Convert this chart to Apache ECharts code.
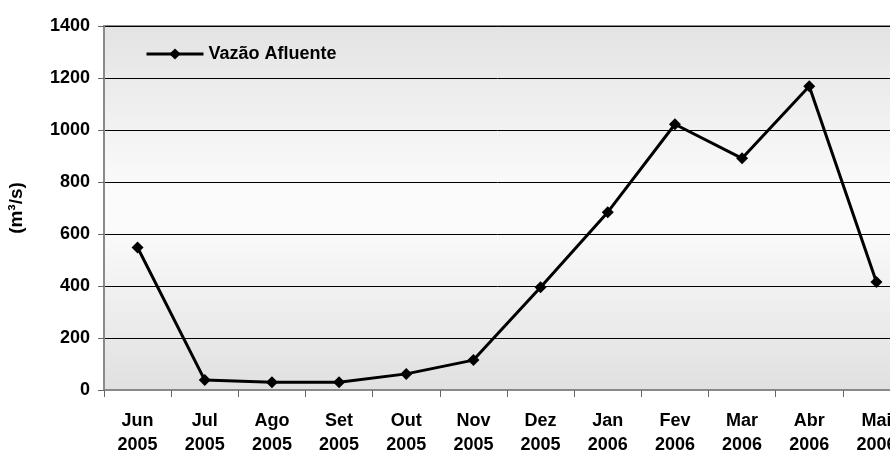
<!DOCTYPE html>
<html>
<head>
<meta charset="utf-8">
<script src="https://cdn.jsdelivr.net/npm/echarts@6/dist/echarts.min.js"></script>
<style>
	html, body { margin: 0; padding: 0; background: #fff; }
	#chart { width: 890px; height: 459px; }
</style>
</head>
<body>
<div id="chart"></div>
<script>
// monthly inflow, Jun 2005 - Mai 2006
var months = ['Jun\n2005', 'Jul\n2005', 'Ago\n2005', 'Set\n2005', 'Out\n2005', 'Nov\n2005',
	'Dez\n2005', 'Jan\n2006', 'Fev\n2006', 'Mar\n2006', 'Abr\n2006', 'Mai\n2006'];
var vazao = [548, 38, 30, 30, 62, 115, 395, 684, 1022, 891, 1168, 415];
var seriesName = 'Vazão Afluente';

var myChart = echarts.init(document.getElementById('chart'));
var font = 'Liberation Sans, Arial, sans-serif';

myChart.setOption({
	animation: false,
	grid: {
		left: 104,
		width: 806, // plot runs past the right edge, like the original
		top: 26,
		bottom: 69,
		outerBoundsMode: 'none',
		containLabel: false,
		show: true,
		borderColor: '#8a8a8a',
		borderWidth: 2,
		backgroundColor: new echarts.graphic.LinearGradient(0, 0, 0, 1, [
			{ offset: 0, color: '#e3e3e3' },
			{ offset: 0.45, color: '#fbfbfb' },
			{ offset: 0.55, color: '#fbfbfb' },
			{ offset: 1, color: '#e0e0e0' }
		])
	},
	legend: {
		left: 140,
		top: 40,
		itemWidth: 57,
		itemHeight: 14,
		itemGap: 4,
		lineStyle: { width: 3 },
		textStyle: { fontFamily: font, fontWeight: 'bold', fontSize: 18, color: '#000' },
		data: [seriesName]
	},
	xAxis: {
		type: 'category',
		data: months,
		boundaryGap: true,
		axisLine: { lineStyle: { color: '#8a8a8a', width: 2 } },
		axisTick: { show: true, length: 7, lineStyle: { color: '#666' } },
		axisLabel: {
			interval: 0,
			margin: 19,
			lineHeight: 24,
			color: '#000',
			fontFamily: font,
			fontWeight: 'bold',
			fontSize: 18
		}
	},
	yAxis: {
		type: 'value',
		min: 0,
		max: 1400,
		interval: 200,
		name: '(m³/s)',
		nameLocation: 'middle',
		nameGap: 78,
		nameTextStyle: { fontFamily: font, fontWeight: 'bold', fontSize: 19, color: '#000' },
		axisLine: { show: true, lineStyle: { color: '#8a8a8a', width: 2 } },
		axisTick: { show: true, length: 6, lineStyle: { color: '#666' } },
		axisLabel: {
			margin: 14,
			color: '#000',
			fontFamily: font,
			fontWeight: 'bold',
			fontSize: 18,
			formatter: function (v) { return String(v); }
		},
		splitLine: { lineStyle: { color: '#000', width: 1 } }
	},
	series: [{
		name: seriesName,
		type: 'line',
		data: vazao,
		symbol: 'diamond',
		symbolSize: 12,
		lineStyle: { color: '#000', width: 3 },
		itemStyle: { color: '#000' }
	}]
});
</script>
</body>
</html>
